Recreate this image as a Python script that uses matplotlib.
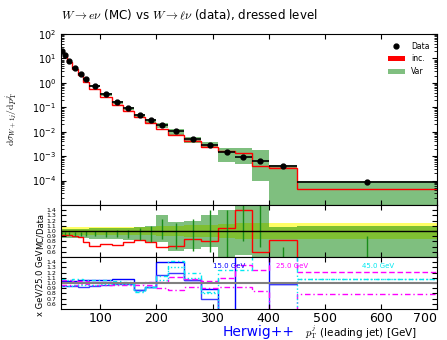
import numpy as np
import matplotlib
matplotlib.use("Agg")
import matplotlib.pyplot as plt
from matplotlib.patches import Patch
from matplotlib.lines import Line2D

plt.rcParams["mathtext.fontset"] = "cm"

# bin edges of the leading-jet pT histogram [GeV]
edges = [30, 35, 40, 50, 60, 70, 80, 100, 120, 140, 160, 180, 200,
         220, 250, 280, 310, 340, 370, 400, 450, 700]

# measured cross section (data)
data = [20.7, 13.8, 7.8, 4.2, 2.3, 1.4, 0.76, 0.35, 0.17, 0.093, 0.048,
        0.029, 0.018, 0.0105, 0.0051, 0.003, 0.0015, 0.00092, 0.00063,
        0.0004, 0.00009]
data_rel_err = [0.07, 0.07, 0.07, 0.07, 0.07, 0.07, 0.08, 0.08, 0.08, 0.08,
                0.08, 0.08, 0.09, 0.10, 0.11, 0.12, 0.14, 0.15, 0.15, 0.16, 0.16]

# MC "inc." / data
inc_ratio = [0.92, 0.92, 0.92, 0.90, 0.88, 0.79, 0.72, 0.75, 0.73, 0.79,
             0.83, 0.79, 0.70, 0.72, 0.84, 0.80, 1.06, 1.40, 0.60, 0.83, 0.48]

# MC "Var" envelope / data
var_lo = [0.87, 0.87, 0.87, 0.87, 0.86, 0.86, 0.85, 0.85, 0.84, 0.82, 0.80,
          0.78, 0.78, 0.62, 0.65, 0.70, 0.39, 0.54, 0.15, 1e-6, 1e-6]
var_hi = [1.04, 1.04, 1.03, 1.03, 1.03, 1.04, 1.05, 1.05, 1.06, 1.06, 1.08,
          1.10, 1.30, 1.18, 1.20, 1.30, 1.40, 2.30, 2.80, 1.07, 1.10]
var_err = [0.02, 0.03, 0.03, 0.04, 0.04, 0.05, 0.05, 0.06, 0.07, 0.08, 0.12,
           0.15, 0.20, 0.25, 0.30, 0.40, 0.50, 0.40, 0.50, 0.10, 0.30]

# scale-variation ratios (x GeV / 25 GeV)
blue_up = [1.04, 1.04, 1.04, 1.04, 1.05, 1.05, 1.06, 1.06, 1.07, 1.07, 0.87,
           0.93, 1.40, 1.40, 1.05, 0.88, 0.30, 2.00, 2.00, 0.99, np.nan]
blue_dn = [0.94, 0.94, 0.94, 0.95, 0.93, 0.93, 0.95, 0.96, 0.98, 0.98, 0.86,
           0.92, 1.15, 1.20, 1.05, 0.70, 0.30, 0.30, 0.30, 0.99, np.nan]
mag_up = [1.05, 1.05, 1.05, 1.04, 1.03, 1.03, 1.02, 1.02, 1.01, 1.01, 1.00,
          1.02, 1.02, 1.12, 1.08, 1.04, 1.10, 1.35, 1.25, 2.00, 1.22]
mag_dn = [0.97, 0.97, 0.97, 0.97, 0.98, 0.98, 0.97, 0.97, 0.96, 0.97, 0.96,
          0.96, 0.90, 0.86, 0.93, 0.90, 0.92, 0.92, 0.85, 0.30, 0.79]
cyan_up = [1.07, 1.07, 1.06, 1.08, 1.08, 1.06, 1.05, 1.05, 1.04, 1.02, 0.83,
           0.92, 1.13, 1.42, 1.20, 0.83, 1.25, 1.25, 2.00, 2.00, 1.07]
cyan_dn = [0.95, 0.95, 0.95, 0.96, 0.96, 0.97, 0.97, 0.98, 0.99, 0.99, 0.84,
           0.93, 1.05, 1.30, 1.10, 0.80, 0.30, 0.30, 0.30, 0.30, 1.07]
var_labels = ["15.0 GeV", "25.0 GeV", "45.0 GeV"]
var_label_x = [300, 414, 566]

edges = np.array(edges, dtype=float)
data = np.array(data)
centers = 0.5 * (edges[1:] + edges[:-1])
halfw = 0.5 * (edges[1:] - edges[:-1])
inc = data * np.array(inc_ratio)
vlo = np.array(var_lo)
vhi = np.array(var_hi)

green = (0.0, 0.5, 0.0)

fig = plt.figure(figsize=(4.47, 3.40), dpi=100)
ax = fig.add_axes([0.1365, 0.397, 0.841, 0.503])
ax_r1 = fig.add_axes([0.1365, 0.244, 0.841, 0.153], sharex=ax)
ax_r2 = fig.add_axes([0.1365, 0.091, 0.841, 0.153], sharex=ax)

# ---- main panel
ax.stairs(data * vhi, edges, baseline=np.maximum(data * vlo, 1e-9), fill=True,
          color=green, alpha=0.5, lw=0)
ax.stairs(inc * 1.05, edges, baseline=inc * 0.95, fill=True, color="red",
          alpha=0.25, lw=0)
ax.stairs(inc, edges, color="red", lw=1.0, baseline=None)
ax.errorbar(centers, data, xerr=halfw, yerr=data * np.array(data_rel_err) * 0.5,
            fmt="o", color="black", ms=3.5, elinewidth=1.2, capsize=0, zorder=5)
ax.set_yscale("log")
ax.set_ylim(1e-5, 1e2)
ax.set_xlim(30, 700)
ax.set_yticks([1e-4, 1e-3, 1e-2, 1e-1, 1, 10, 100])
ax.set_ylabel(r"$\mathrm{d}\sigma_{W+1j}/\mathrm{d}p_\mathrm{T}^{j}$", fontsize=7)
ax.yaxis.set_label_coords(-0.11, 0.5)
ax.tick_params(which="both", direction="in", top=True, right=True, labelsize=7)
ax.tick_params(axis="x", labelbottom=False)
ax.set_title(r"$W\rightarrow e\nu$ (MC) vs $W\rightarrow \ell\nu$ (data), dressed level",
             fontsize=8.6, loc="left", pad=11)

handles = [
    Line2D([], [], marker="o", color="black", ms=3.5, lw=0),
    Patch(facecolor="red", edgecolor="none"),
    Patch(facecolor=(0.5, 0.75, 0.5), edgecolor="none"),
]
ax.legend(handles, ["Data", "inc.", "Var"], loc="upper right", fontsize=5.5,
          frameon=False, handlelength=2.2, borderaxespad=0.6)

# ---- ratio MC/Data
derr = np.array(data_rel_err)
ax_r1.stairs(1 + derr, edges, baseline=1 - derr, fill=True, color="#ffff66", lw=0)
ax_r1.stairs(vhi, edges, baseline=vlo, fill=True, color=green, alpha=0.5, lw=0)
ax_r1.stairs(np.array(inc_ratio), edges, color="red", lw=1.0, baseline=None)
vmid = np.clip(0.5 * (vlo + vhi), 0.6, 1.2)
ax_r1.errorbar(centers, vmid, yerr=var_err, fmt="none", ecolor="#1a8c1a",
               elinewidth=1.0)
ax_r1.axhline(1.0, color="black", lw=1.0)
ax_r1.set_ylim(0.5, 1.5)
ax_r1.set_yticks(np.arange(0.6, 1.41, 0.1))
ax_r1.set_ylabel("MC/Data", fontsize=6, labelpad=1)
ax_r1.tick_params(which="both", direction="in", top=True, right=True, labelsize=4.5)
ax_r1.tick_params(axis="x", labelbottom=False)

# ---- scale variations
ax_r2.axhline(1.0, color="gray", lw=1.5)
ax_r2.stairs(blue_up, edges, color="#0000ff", lw=1.0, baseline=None)
ax_r2.stairs(blue_dn, edges, color="#3a3aff", lw=1.0, baseline=None)
ax_r2.stairs(mag_up, edges, color="#ff00ff", lw=1.0, ls=(0, (4, 2)), baseline=None)
ax_r2.stairs(mag_dn, edges, color="#ff00ff", lw=1.0, ls=(0, (4, 2, 1, 2)), baseline=None)
ax_r2.stairs(cyan_up, edges, color="#00e8f0", lw=1.0, ls=(0, (3, 2, 1, 2)), baseline=None)
ax_r2.stairs(cyan_dn, edges, color="#00e8f0", lw=1.0, ls=(0, (1, 1.5)), baseline=None)
for lab, xl, col in zip(var_labels, var_label_x, ["#0000ff", "#ff00ff", "#00e8f0"]):
    ax_r2.text(xl, 1.33, lab, color=col, fontsize=5, va="center")
ax_r2.set_ylim(0.5, 1.5)
ax_r2.set_yticks(np.arange(0.6, 1.41, 0.1))
ax_r2.set_ylabel("x GeV/25.0 GeV", fontsize=6, labelpad=1)
ax_r2.tick_params(which="both", direction="in", top=True, right=True, labelsize=4.5)
ax_r2.tick_params(axis="x", labelsize=9, pad=2)
ax_r2.set_xticks([100, 200, 300, 400, 500, 600, 700])
ax_r2.set_xlim(30, 700)
ax_r2.get_xticklabels()[-1].set_horizontalalignment("right")

fig.text(0.933, 0.022, r"$p_\mathrm{T}^{j}$ (leading jet) [GeV]", fontsize=7.5,
         ha="right", va="center")
fig.text(0.497, 0.024, "Herwig++", fontsize=10, color="#0000ff", ha="left",
         va="center")

fig.savefig("out.png", dpi=100)
